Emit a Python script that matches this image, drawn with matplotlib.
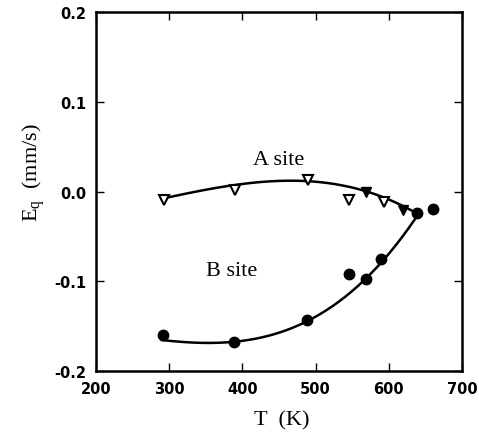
import numpy as np
import matplotlib
matplotlib.use('Agg')
import matplotlib.pyplot as plt

# A site (open down-triangles; two look filled in the scan)
a_temp = [293, 390, 490, 545, 593]
a_eq = [-0.010, 0.002, 0.013, -0.010, -0.012]
a_temp_filled = [569, 619]
a_eq_filled = [0.000, -0.021]

# B site (filled circles)
b_temp = [292, 389, 488, 545, 569, 590, 639, 660]
b_eq = [-0.160, -0.168, -0.143, -0.092, -0.097, -0.075, -0.024, -0.020]

# fitted curves
a_fit_t = [290, 350, 420, 480, 530, 570, 610, 640]
a_fit_e = [-0.008, 0.002, 0.010, 0.012, 0.008, 0.000, -0.013, -0.025]
b_fit_t = [290, 350, 420, 490, 540, 580, 610, 640]
b_fit_e = [-0.165, -0.170, -0.163, -0.143, -0.118, -0.088, -0.060, -0.025]

tick_font = {'family': 'DejaVu Sans', 'weight': 'bold', 'size': 10.5}
serif = 'Liberation Serif'

fig = plt.figure(figsize=(4.79, 4.35), dpi=100)
ax = fig.add_axes([0.2004, 0.1448, 0.7641, 0.8253])

# smooth the drawn curves with a low order polynomial through the read points
ta = np.linspace(min(a_fit_t), max(a_fit_t), 200)
ax.plot(ta, np.polyval(np.polyfit(a_fit_t, a_fit_e, 3), ta), color='black', lw=1.8)
tb = np.linspace(min(b_fit_t), max(b_fit_t), 200)
ax.plot(tb, np.polyval(np.polyfit(b_fit_t, b_fit_e, 3), tb), color='black', lw=1.8)

ax.plot(a_temp, a_eq, linestyle='none', marker='v', markersize=7.5,
        markerfacecolor='white', markeredgecolor='black', markeredgewidth=1.5)
ax.plot(a_temp_filled, a_eq_filled, linestyle='none', marker='v', markersize=7.5,
        color='black')
ax.plot(b_temp, b_eq, linestyle='none', marker='o', markersize=7.5, color='black')

ax.text(449, 0.036, 'A site', ha='center', va='center', fontsize=16, family=serif)
ax.text(385, -0.088, 'B site', ha='center', va='center', fontsize=16, family=serif)

ax.set_xlim(200, 700)
ax.set_ylim(-0.2, 0.2)
ax.set_xticks([200, 300, 400, 500, 600, 700])
ax.set_yticks([-0.2, -0.1, 0.0, 0.1, 0.2])
ax.set_xticklabels(['200', '300', '400', '500', '600', '700'], fontdict=tick_font)
ax.set_yticklabels(['-0.2', '-0.1', '0.0', '0.1', '0.2'], fontdict=tick_font)
ax.tick_params(direction='in', length=6, width=1.0, top=True, right=True, pad=7)
for s in ax.spines.values():
    s.set_linewidth(1.8)

ax.set_xlabel('T  (K)', family=serif, fontsize=16)
ax.set_ylabel(r'E$_\mathregular{q}$  (mm/s)', family=serif, fontsize=16)
ax.xaxis.set_label_coords(0.508, -0.108)
ax.yaxis.set_label_coords(-0.13, 0.556)

fig.savefig('out.png', dpi=100)
